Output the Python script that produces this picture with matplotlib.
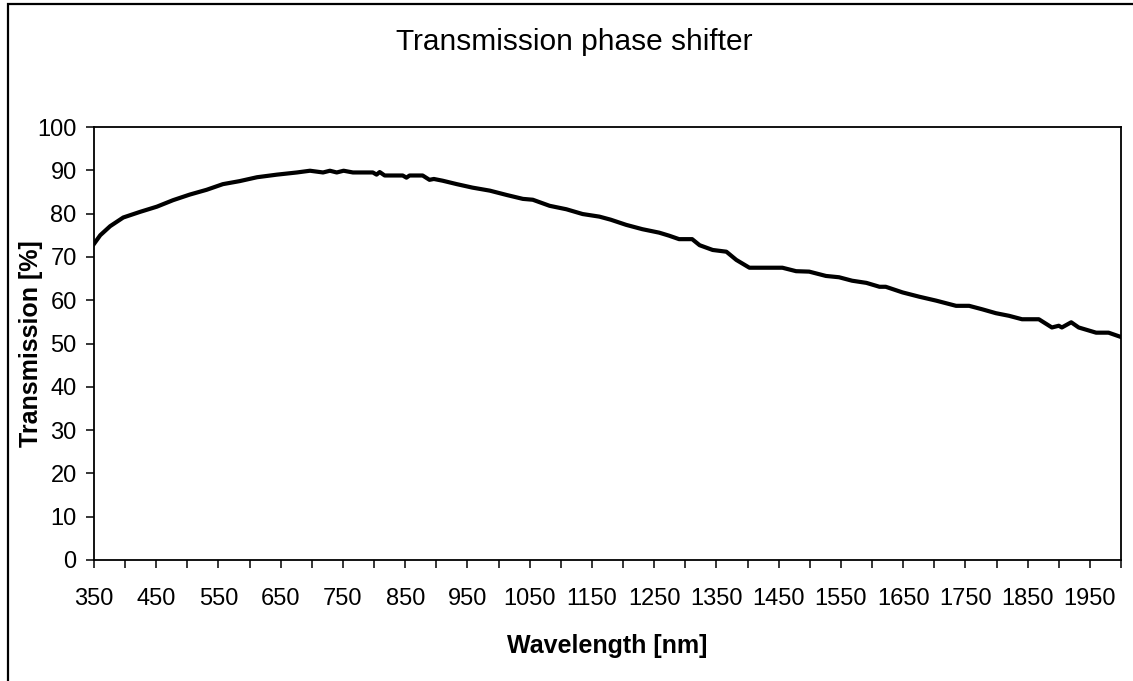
#!/usr/bin/env python3
"""Transmission curve of the phase shifter, redrawn with matplotlib."""

import matplotlib
matplotlib.use("Agg")
import matplotlib.pyplot as plt
from matplotlib.patches import Rectangle


# ==============================
# Data
# ==============================

wavelength_nm = [
    350, 355, 360, 376, 397, 424, 451, 477, 504, 531, 557, 584, 612, 644,
    676, 697, 718, 729, 740, 751, 766, 798, 804, 809, 817, 846, 852, 857,
    878, 889, 896, 910, 933, 958, 986, 1013, 1039, 1055, 1082, 1109, 1135,
    1162, 1180, 1205, 1231, 1258, 1274, 1290, 1311, 1323, 1344, 1366, 1382,
    1403, 1456, 1478, 1499, 1526, 1547, 1568, 1591, 1612, 1622, 1649, 1676,
    1703, 1735, 1756, 1777, 1799, 1820, 1841, 1868, 1889, 1900, 1905, 1920,
    1932, 1960, 1980, 2000,
]
transmission_pct = [
    73.0, 74.0, 75.0, 77.1, 79.1, 80.4, 81.6, 83.1, 84.4, 85.5, 86.8, 87.5,
    88.4, 89.0, 89.5, 89.9, 89.5, 89.9, 89.5, 89.9, 89.5, 89.5, 89.0, 89.6,
    88.8, 88.8, 88.3, 88.8, 88.8, 87.8, 88.0, 87.6, 86.8, 86.0, 85.3, 84.3,
    83.4, 83.2, 81.8, 81.0, 79.9, 79.3, 78.6, 77.4, 76.4, 75.6, 74.9, 74.1,
    74.1, 72.7, 71.6, 71.2, 69.3, 67.5, 67.5, 66.7, 66.6, 65.6, 65.3, 64.5,
    64.0, 63.1, 63.1, 61.8, 60.8, 59.9, 58.7, 58.7, 57.9, 57.0, 56.4, 55.6,
    55.6, 53.7, 54.1, 53.7, 54.9, 53.7, 52.5, 52.5, 51.5,
]

x_ticks = list(range(350, 2001, 50))
x_tick_labels = [str(v) if (v - 350) % 100 == 0 else "" for v in x_ticks]
y_ticks = list(range(0, 101, 10))

TITLE = "Transmission phase shifter"
X_LABEL = "Wavelength [nm]"
Y_LABEL = "Transmission [%]"


# ==============================
# Plot
# ==============================

def main():
    plt.rcParams["font.family"] = ["Liberation Sans", "DejaVu Sans"]

    W, H = 1133, 681
    fig = plt.figure(figsize=(W / 100, H / 100), dpi=100)
    ax = fig.add_axes([94 / W, 1 - 560 / H, (1121 - 94) / W, (560 - 127) / H])

    ax.plot(wavelength_nm, transmission_pct, color="black", lw=3.0,
            solid_joinstyle="round")

    ax.set_xlim(350, 2000)
    ax.set_ylim(0, 100)
    ax.set_xticks(x_ticks)
    ax.set_xticklabels(x_tick_labels)
    ax.set_yticks(y_ticks)
    ax.tick_params(axis="both", direction="out", length=5.5, width=1.1,
                   labelsize=17, colors="black")
    ax.tick_params(axis="x", pad=15)
    ax.tick_params(axis="y", pad=7)
    for sp in ax.spines.values():
        sp.set_linewidth(1.3)
        sp.set_color("black")

    ax.set_xlabel(X_LABEL, fontsize=18, fontweight="bold", labelpad=17)
    ax.set_ylabel(Y_LABEL, fontsize=18, fontweight="bold", labelpad=-4)
    fig.text(574 / W, 1 - 42 / H, TITLE, fontsize=21.5, ha="center", va="center")

    # chart-area border (continues past the right/bottom edge of the image)
    fig.patches.append(Rectangle((8 / W, -0.1), 1.2, 1.1 - 4 / H,
                                 transform=fig.transFigure, fill=False,
                                 edgecolor="black", lw=1.6))

    fig.savefig("out.png", dpi=100)


if __name__ == "__main__":
    main()
